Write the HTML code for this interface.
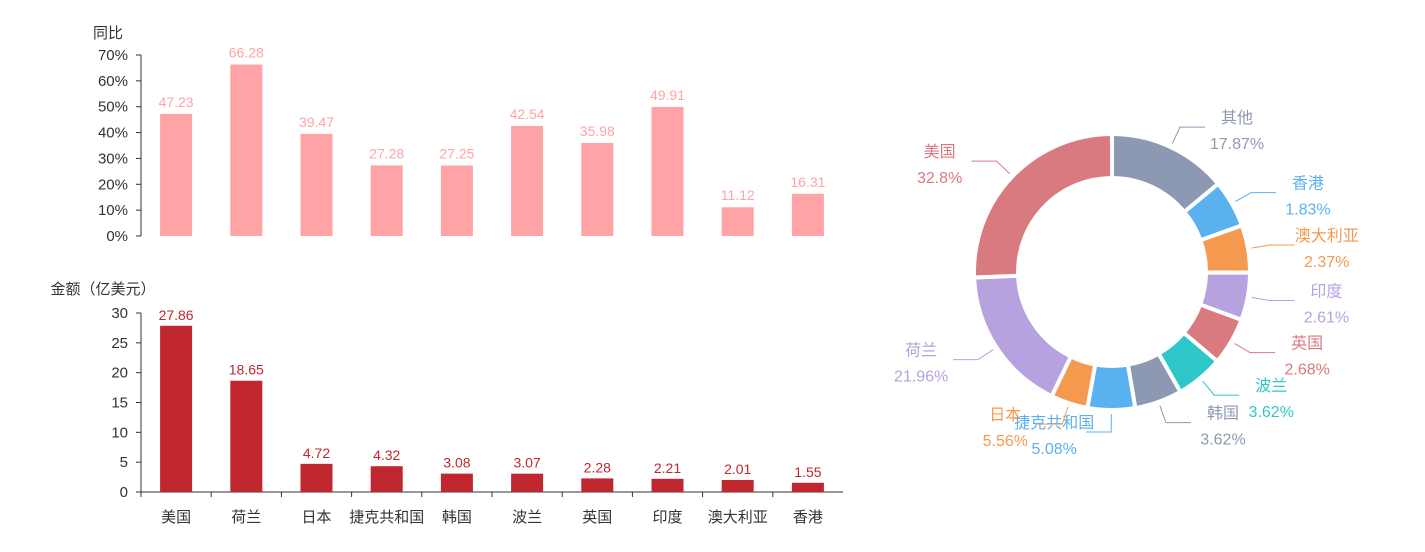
<!DOCTYPE html>
<html><head><meta charset="utf-8"><style>
body{margin:0;background:#fff;width:1425px;height:547px;overflow:hidden;font-family:"Liberation Sans","Noto Sans CJK SC",sans-serif}
svg text{font-family:"Liberation Sans","Noto Sans CJK SC",sans-serif}
</style></head><body>
<svg id="c" width="1425" height="547"></svg>
<script>
const categories=["美国","荷兰","日本","捷克共和国","韩国","波兰","英国","印度","澳大利亚","香港"];
const yoyValues=[47.23,66.28,39.47,27.28,27.25,42.54,35.98,49.91,11.12,16.31];
const amountValues=[27.86,18.65,4.72,4.32,3.08,3.07,2.28,2.21,2.01,1.55];
const yoyTicks=[0,10,20,30,40,50,60,70];
const amountTicks=[0,5,10,15,20,25,30];
const pieNames=["其他","香港","澳大利亚","印度","英国","波兰","韩国","捷克共和国","日本","荷兰","美国"];
const pieValues=[17.87,1.83,2.37,2.61,2.68,3.62,3.62,5.08,5.56,21.96,32.8];
const pieLabels=["17.87%","1.83%","2.37%","2.61%","2.68%","3.62%","3.62%","5.08%","5.56%","21.96%","32.8%"];

const NS="http://www.w3.org/2000/svg",svg=document.getElementById('c');
function mk(t,a,txt,name,parent){const e=document.createElementNS(NS,t);for(const k in a)e.setAttribute(k,a[k]);if(txt!=null)e.textContent=txt;


(parent||svg).appendChild(e);return e;}
const x0=141,x1=843,step=(x1-x0)/categories.length;
const xc=i=>x0+step*(i+0.5);
// top chart
const yTop=v=>236-v/70*181;
mk('text',{x:108,y:38,'font-size':15,fill:'#333','text-anchor':'middle'},'同比','top-y-axis-title');
yoyTicks.forEach(t=>{mk('text',{x:128,y:yTop(t)+5,'font-size':15,fill:'#333','text-anchor':'end'},t+'%','top-y-tick');
mk('line',{x1:136,x2:141,y1:yTop(t),y2:yTop(t),stroke:'#333'},null,'top-y-tick-mark');});
mk('line',{x1:141,x2:141,y1:yTop(70),y2:236,stroke:'#333'},null,'top-y-axis');
yoyValues.forEach((v,i)=>{mk('rect',{x:xc(i)-16,y:yTop(v),width:32,height:236-yTop(v),fill:'#ffa3a6'},null,'yoy-bar');
mk('text',{x:xc(i),y:yTop(v)-7,'font-size':14,fill:'#ffa3a6','text-anchor':'middle'},v.toFixed(2),'yoy-value-label');});
// bottom chart
const yBot=v=>492-v/30*179;
mk('text',{x:103,y:294,'font-size':15,fill:'#333','text-anchor':'middle'},'金额（亿美元）','bottom-y-axis-title');
amountTicks.forEach(t=>{mk('text',{x:128,y:yBot(t)+5,'font-size':15,fill:'#333','text-anchor':'end'},t,'bottom-y-tick');
mk('line',{x1:136,x2:141,y1:yBot(t),y2:yBot(t),stroke:'#333'},null,'bottom-y-tick-mark');});
mk('line',{x1:141,x2:141,y1:yBot(30),y2:492,stroke:'#333'},null,'bottom-y-axis');
mk('line',{x1:141,x2:x1,y1:492,y2:492,stroke:'#333'},null,'bottom-x-axis');
categories.forEach((c,i)=>{mk('text',{x:xc(i),y:522,'font-size':15,fill:'#333','text-anchor':'middle'},c,'x-category-label');
mk('line',{x1:x0+step*i,x2:x0+step*i,y1:492,y2:497,stroke:'#333'},null,'x-tick-mark');});
amountValues.forEach((v,i)=>{mk('rect',{x:xc(i)-16,y:yBot(v),width:32,height:492-yBot(v),fill:'#c0272f'},null,'amount-bar');
mk('text',{x:xc(i),y:yBot(v)-6,'font-size':14,fill:'#c0272f','text-anchor':'middle'},v.toFixed(2),'amount-value-label');});
// donut
const colors=['#8d98b3','#5ab1ef','#f5994e','#b6a2de','#d87a80','#2ec7c9','#8d98b3','#5ab1ef','#f5994e','#b6a2de','#d87a80'];
const cx=1112,cy=272,R=138,r=94,minA=20;
const tot=pieValues.reduce((a,b)=>a+b,0);
let ang=pieValues.map(v=>v/tot*360);
const small=ang.map(a=>a<minA);const smallSum=small.filter(s=>s).length*minA;
const bigTot=pieValues.filter((v,i)=>!small[i]).reduce((a,b)=>a+b,0);
ang=pieValues.map((v,i)=>small[i]?minA:v/bigTot*(360-smallSum));
const pt=(a,rad)=>[cx+rad*Math.sin(a*Math.PI/180),cy-rad*Math.cos(a*Math.PI/180)];
let a0=0;
ang.forEach((a,i)=>{const s=a0,e=a0+a;const p1=pt(s,R),p2=pt(e,R),p3=pt(e,r),p4=pt(s,r);const lg=a>180?1:0;
mk('path',{d:`M${p1}A${R},${R} 0 ${lg} 1 ${p2}L${p3}A${r},${r} 0 ${lg} 0 ${p4}Z`,fill:colors[i],stroke:'#fff','stroke-width':4},null,'donut-slice');
const m=(s+e)/2,q1=pt(m,R+4),q2=pt(m,R+22),right=m<180;const q3=[q2[0]+(right?25:-25),q2[1]];
mk('polyline',{points:`${q1} ${q2} ${q3}`,fill:'none',stroke:colors[i]},null,'donut-leader-line');
const tx=q3[0]+(right?32:-32);
mk('text',{x:tx,y:q3[1]-4,'font-size':16,fill:colors[i],'text-anchor':'middle'},pieNames[i],'donut-label-name');
mk('text',{x:tx,y:q3[1]+22,'font-size':16,fill:colors[i],'text-anchor':'middle'},pieLabels[i],'donut-label-percent');
a0=e;});
</script>
</body></html>
